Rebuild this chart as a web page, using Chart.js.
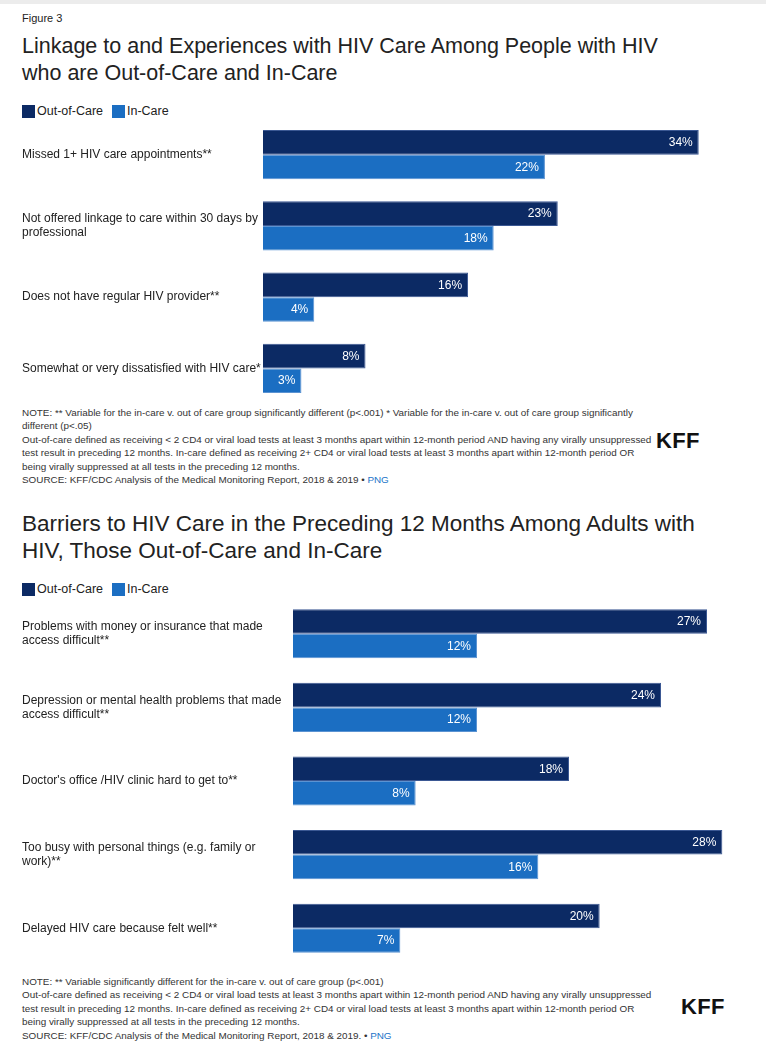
<!DOCTYPE html>
<html>
<head>
<meta charset="utf-8">
<script src="https://cdn.jsdelivr.net/npm/chart.js@4/dist/chart.umd.min.js"></script>
<style>
  html, body { margin: 0; padding: 0; background: #fff; }
  body { width: 766px; height: 1063px; position: relative; overflow: hidden;
         font-family: "Liberation Sans", Arial, Helvetica, sans-serif; color: #222; }
  .abs { position: absolute; }
  .topbar { left: 0; top: 0; width: 766px; height: 4px; background: #ececec; }
  .fig { left: 22px; top: 12px; font-size: 11px; }
  .title { left: 22px; font-size: 21.5px; line-height: 27px; color: #222; white-space: nowrap; }
  .legend { left: 22px; font-size: 12.5px; display: flex; align-items: center; white-space: nowrap; }
  .legend .sw { width: 13px; height: 13px; display: inline-block; margin-right: 2px; }
  .legend .item { display: flex; align-items: center; margin-right: 9px; }
  .note { left: 22px; font-size: 9.9px; line-height: 13.4px; color: #333; white-space: nowrap; }
  .note a { color: #1a73c8; text-decoration: none; }
  .kff { font-size: 22px; font-weight: bold; color: #111; letter-spacing: 0.3px; }
  .chartbox { left: 0; width: 766px; }
</style>
</head>
<body>
<div class="abs topbar"></div>
<div class="abs fig">Figure 3</div>
<div class="abs title" style="top:33px;">Linkage to and Experiences with HIV Care Among People with HIV<br>who are Out-of-Care and In-Care</div>
<div class="abs legend" style="top:104px;">
  <span class="item"><span class="sw" style="background:#0c2a64"></span>Out-of-Care</span>
  <span class="item"><span class="sw" style="background:#1b6ec2"></span>In-Care</span>
</div>
<div class="abs chartbox" style="top:119px;height:285px;"><canvas id="c1"></canvas></div>
<div class="abs note" style="top:406px;">NOTE: ** Variable for the in-care v. out of care group significantly different (p&lt;.001) * Variable for the in-care v. out of care group significantly<br>different (p&lt;.05)<br>Out-of-care defined as receiving &lt; 2 CD4 or viral load tests at least 3 months apart within 12-month period AND having any virally unsuppressed<br>test result in preceding 12 months. In-care defined as receiving 2+ CD4 or viral load tests at least 3 months apart within 12-month period OR<br>being virally suppressed at all tests in the preceding 12 months.<br>SOURCE: KFF/CDC Analysis of the Medical Monitoring Report, 2018 &amp; 2019 • <a>PNG</a></div>
<div class="abs kff" style="left:656px;top:428px;">KFF</div>

<div class="abs title" style="top:510px;font-size:22.5px;">Barriers to HIV Care in the Preceding 12 Months Among Adults with<br>HIV, Those Out-of-Care and In-Care</div>
<div class="abs legend" style="top:582px;">
  <span class="item"><span class="sw" style="background:#0c2a64"></span>Out-of-Care</span>
  <span class="item"><span class="sw" style="background:#1b6ec2"></span>In-Care</span>
</div>
<div class="abs chartbox" style="top:597px;height:368px;"><canvas id="c2"></canvas></div>
<div class="abs note" style="top:975px;">NOTE: ** Variable significantly different for the in-care v. out of care group (p&lt;.001)<br>Out-of-care defined as receiving &lt; 2 CD4 or viral load tests at least 3 months apart within 12-month period AND having any virally unsuppressed<br>test result in preceding 12 months. In-care defined as receiving 2+ CD4 or viral load tests at least 3 months apart within 12-month period OR<br>being virally suppressed at all tests in the preceding 12 months.<br>SOURCE: KFF/CDC Analysis of the Medical Monitoring Report, 2018 &amp; 2019. • <a>PNG</a></div>
<div class="abs kff" style="left:681px;top:994px;">KFF</div>

<script>
// ---- Data ----
const seriesNames = ["Out-of-Care", "In-Care"];

const categories1 = [
  "Missed 1+ HIV care appointments**",
  ["Not offered linkage to care within 30 days by", "professional"],
  "Does not have regular HIV provider**",
  "Somewhat or very dissatisfied with HIV care*"
];
const outOfCare1 = [34, 23, 16, 8];
const inCare1 = [22, 18, 4, 3];

const categories2 = [
  ["Problems with money or insurance that made", "access difficult**"],
  ["Depression or mental health problems that made", "access difficult**"],
  "Doctor's office /HIV clinic hard to get to**",
  ["Too busy with personal things (e.g. family or", "work)**"],
  "Delayed HIV care because felt well**"
];
const outOfCare2 = [27, 24, 18, 28, 20];
const inCare2 = [12, 12, 8, 16, 7];

// ---- Style ----
const DARK = "#0c2a64";
const LIGHT = "#1b6ec2";
const FONT = "'Liberation Sans', Arial, Helvetica, sans-serif";
Chart.defaults.font.family = FONT;

const valueLabels = {
  id: "valueLabels",
  afterDatasetsDraw(chart) {
    const ctx = chart.ctx;
    ctx.save();
    ctx.fillStyle = "#ffffff";
    ctx.font = "12px " + FONT;
    ctx.textAlign = "right";
    ctx.textBaseline = "middle";
    chart.data.datasets.forEach((ds, di) => {
      const meta = chart.getDatasetMeta(di);
      meta.data.forEach((bar, i) => {
        ctx.fillText(ds.data[i] + "%", bar.x - 6, bar.y + 0.5);
      });
    });
    ctx.restore();
  }
};

function makeChart(id, cats, a, b, xMax, axisWidth, rightPad, catPct) {
  return new Chart(document.getElementById(id), {
    type: "bar",
    data: {
      labels: cats,
      datasets: [
        { label: seriesNames[0], data: a, backgroundColor: DARK, borderColor: "#3b5893", borderWidth: 1, borderSkipped: "left" },
        { label: seriesNames[1], data: b, backgroundColor: LIGHT, borderColor: "#5b93d2", borderWidth: 1, borderSkipped: "left" }
      ]
    },
    options: {
      indexAxis: "y",
      responsive: true,
      maintainAspectRatio: false,
      animation: false,
      layout: { padding: { left: 22, right: rightPad, top: 0, bottom: 0 } },
      datasets: { bar: { categoryPercentage: catPct, barPercentage: 1 } },
      plugins: { legend: { display: false }, tooltip: { enabled: false } },
      scales: {
        x: { display: false, min: 0, max: xMax, grid: { display: false } },
        y: {
          grid: { display: false },
          border: { display: false },
          ticks: { crossAlign: "far", color: "#222", font: { size: 12, lineHeight: 1.2 }, padding: 0 },
          afterFit(scale) {
            scale.width = axisWidth;
            scale.paddingTop = 0;
            scale.paddingBottom = 0;
          }
        }
      }
    },
    plugins: [valueLabels]
  });
}

makeChart("c1", categories1, outOfCare1, inCare1, 38, 241, 16, 0.69);
makeChart("c2", categories2, outOfCare2, inCare2, 30, 271, 13, 0.667);
</script>
</body>
</html>
